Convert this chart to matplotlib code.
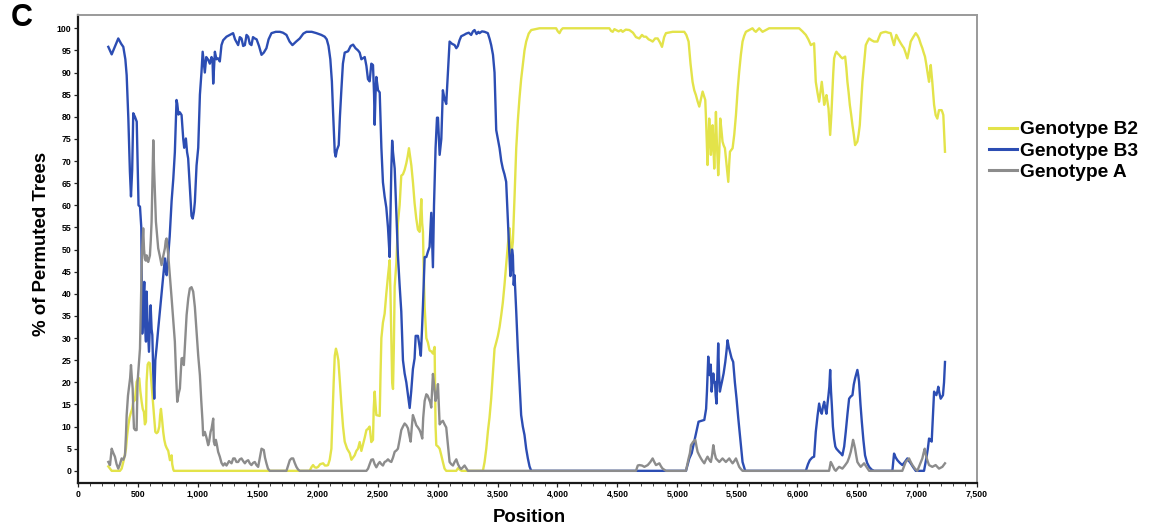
import matplotlib
matplotlib.use("Agg")
import matplotlib.pyplot as plt
from matplotlib.ticker import MultipleLocator

# ---------------- data ----------------
b2_pos = [253, 267, 281, 350, 364, 378, 390, 400, 410, 420, 430, 440, 452, 461, 475, 489, 503, 511, 520, 531,
          540, 550, 558, 567, 572, 581, 590, 600, 607, 614, 621, 628, 636, 645, 656, 667, 678, 685, 692, 700,
          711, 720, 730, 739, 753, 760, 767, 775, 781, 786, 795, 800, 1933, 1947, 1961, 1975, 1989, 2003, 2020, 2045,
          2060, 2075, 2086, 2100, 2114, 2123, 2133, 2142, 2152, 2162, 2172, 2185, 2197, 2211, 2225, 2245, 2267, 2281, 2294, 2308,
          2322, 2336, 2350, 2364, 2378, 2392, 2406, 2419, 2433, 2447, 2461, 2467, 2475, 2482, 2489, 2503, 2517, 2524, 2531, 2544,
          2558, 2572, 2586, 2600, 2607, 2614, 2621, 2628, 2635, 2642, 2656, 2669, 2683, 2697, 2711, 2725, 2739, 2750, 2761, 2771,
          2781, 2795, 2808, 2822, 2836, 2850, 2857, 2864, 2871, 2878, 2885, 2892, 2906, 2919, 2933, 2947, 2961, 2975, 2983, 2989,
          3003, 3017, 3031, 3044, 3058, 3072, 3156, 3170, 3183, 3200, 3378, 3392, 3406, 3420, 3433, 3447, 3461, 3475, 3489, 3503,
          3517, 3531, 3544, 3558, 3572, 3586, 3600, 3607, 3614, 3621, 3628, 3642, 3656, 3669, 3683, 3697, 3711, 3725, 3739, 3760,
          3781, 3850, 3989, 4003, 4017, 4030, 4044, 4294, 4433, 4447, 4461, 4475, 4489, 4510, 4530, 4544, 4570, 4600, 4630, 4655,
          4683, 4705, 4720, 4739, 4760, 4776, 4794, 4815, 4836, 4855, 4872, 4890, 4905, 4961, 5058, 5075, 5094, 5110, 5127, 5141,
          5155, 5169, 5183, 5197, 5211, 5225, 5233, 5240, 5252, 5259, 5266, 5273, 5280, 5287, 5294, 5301, 5308, 5315, 5322, 5330,
          5341, 5350, 5358, 5368, 5377, 5387, 5397, 5404, 5411, 5418, 5425, 5432, 5439, 5450, 5461, 5475, 5489, 5503, 5516, 5530,
          5544, 5558, 5572, 5600, 5627, 5641, 5655, 5669, 5683, 5697, 5711, 5725, 5739, 5766, 6016, 6044, 6072, 6093, 6114, 6128,
          6141, 6148, 6155, 6169, 6183, 6194, 6205, 6215, 6225, 6235, 6244, 6252, 6261, 6268, 6275, 6285, 6294, 6301, 6308, 6318,
          6327, 6338, 6350, 6364, 6377, 6388, 6400, 6410, 6419, 6429, 6439, 6450, 6461, 6472, 6483, 6492, 6502, 6512, 6522, 6533,
          6544, 6558, 6572, 6586, 6600, 6620, 6641, 6655, 6669, 6683, 6697, 6718, 6739, 6760, 6780, 6794, 6808, 6818, 6827, 6845,
          6864, 6878, 6891, 6905, 6919, 6933, 6947, 6968, 6989, 7003, 7016, 7030, 7044, 7055, 7066, 7076, 7086, 7093, 7100, 7107,
          7114, 7120, 7127, 7135, 7142, 7149, 7155, 7162, 7169, 7176, 7183, 7194, 7205, 7212, 7219, 7226, 7233]
b2_val = [1, 0.5, 0, 0, 0.5, 2, 3.5, 5, 8, 10.3, 12, 13, 14, 15.6, 16, 20.1, 21, 20.9, 18, 15.6,
          14, 13.3, 10.5, 11.1, 20, 24, 24.5, 24.3, 22, 19.4, 17, 14.8, 12, 8.8, 8.5, 8.8, 10, 12.5, 14, 12,
          8.8, 7, 5.8, 5.2, 4.5, 3.5, 2.4, 3, 3.5, 1.5, 0.3, 0, 0, 0.8, 1.3, 0.8, 0.7, 0.9, 1.5, 1.7,
          1.2, 1.2, 1.3, 2.5, 5, 12, 20, 26, 27.6, 26.5, 25, 20, 15, 10, 6.6, 5, 4, 2.5, 3, 3.5,
          4.5, 5, 6.5, 4.5, 6, 7.5, 9.2, 9.5, 10, 6.5, 7, 14, 17.9, 15, 12.6, 12.5, 12.4, 22, 30, 33.5,
          35.5, 40, 44, 47.6, 40, 30, 20, 18.5, 28, 41.7, 47, 56, 60, 66.7, 67, 68, 69.5, 71, 72.9, 71,
          69, 65, 60.5, 57, 54.5, 54, 58, 61.4, 56, 54, 44, 37, 30, 29, 27.2, 27, 26.5, 28, 10, 5.8,
          5.5, 5, 3.5, 2, 0.5, 0, 0, 0.6, 0.3, 0, 0, 2, 5, 9, 12, 16.3, 22, 27.6, 29, 30.5,
          32.5, 35.2, 38, 42, 46.5, 51, 54.8, 52, 48.7, 50, 51.8, 62, 72.9, 79, 84.2, 88.5, 91.7, 95, 97, 98.8,
          99.6, 100, 100, 99.3, 98.9, 99.6, 100, 100, 100, 99.4, 99.2, 99.8, 99.6, 99.3, 99.6, 99.2, 99.7, 99.6, 99, 98,
          97.7, 98.5, 98.1, 98.1, 97.5, 97.3, 97, 97.7, 97.7, 96.8, 95.8, 98, 98.9, 99.2, 99.2, 98.5, 97, 92, 87.9, 86,
          84.9, 83.5, 82.3, 84, 85.7, 84.5, 83.8, 79, 69.1, 74, 79.6, 76, 71.4, 74, 78.1, 73, 68.3, 74, 81.1, 74,
          66.8, 72, 79.6, 77, 74.4, 73.5, 72.9, 71, 69.1, 67, 65.3, 69, 72.1, 72.5, 72.9, 76, 80.4, 86, 90.2, 94,
          97, 98.3, 99.2, 99.6, 100, 99.5, 99.2, 99.6, 100, 99.6, 99.2, 99.4, 99.6, 100, 100, 99.3, 98.5, 97.5, 96.2, 96.4,
          96.6, 92, 87.9, 85.5, 83.4, 85.5, 87.9, 85.5, 82.7, 84, 84.9, 83.5, 81.9, 79, 75.9, 80.5, 85.7, 90, 93.2, 94.2,
          94.7, 94.3, 94, 93.5, 93.2, 93.4, 93.6, 91, 87.9, 85.5, 82.7, 80.5, 78.1, 76, 73.6, 74, 74.4, 76, 78.1, 83,
          87.9, 92, 96.2, 97, 97.7, 97.3, 97, 97, 97, 98, 98.9, 99.1, 99.2, 99, 98.9, 97.5, 96.2, 97.5, 98.5, 97.5,
          96.6, 96, 95.5, 94.4, 93.2, 95, 97, 98, 98.9, 98.4, 97.7, 96.5, 95.5, 94.5, 93.6, 92, 90.2, 89, 87.9, 90,
          91.7, 90, 87.9, 85, 82.7, 81.5, 80.4, 80, 79.6, 80.5, 81.5, 81.5, 81.5, 81, 80.4, 76, 72.1]

b3_pos = [253, 281, 310, 336, 360, 378, 395, 406, 420, 433, 442, 452, 461, 475, 490, 497, 505, 517, 528, 536,
          544, 553, 560, 567, 572, 580, 592, 600, 606, 614, 620, 628, 636, 645, 656, 669, 683, 697, 711, 725,
          733, 740, 753, 765, 781, 795, 808, 822, 828, 838, 850, 864, 878, 886, 900, 910, 919, 933, 947, 957,
          967, 975, 989, 1003, 1017, 1030, 1040, 1050, 1058, 1070, 1086, 1100, 1114, 1122, 1128, 1142, 1155, 1169, 1183, 1197,
          1211, 1239, 1267, 1294, 1310, 1336, 1350, 1364, 1378, 1392, 1406, 1420, 1433, 1447, 1460, 1475, 1490, 1510, 1531, 1550,
          1572, 1590, 1614, 1650, 1684, 1710, 1739, 1765, 1789, 1820, 1850, 1880, 1906, 1950, 1989, 2030, 2058, 2075, 2090, 2105,
          2118, 2128, 2142, 2150, 2160, 2175, 2185, 2197, 2210, 2225, 2253, 2275, 2295, 2315, 2336, 2350, 2364, 2380, 2392, 2406,
          2419, 2433, 2447, 2461, 2470, 2475, 2482, 2489, 2503, 2517, 2531, 2544, 2558, 2572, 2586, 2600, 2608, 2614, 2621, 2628,
          2642, 2656, 2669, 2683, 2697, 2711, 2725, 2739, 2753, 2767, 2780, 2794, 2808, 2817, 2836, 2850, 2860, 2870, 2878, 2892,
          2906, 2919, 2933, 2947, 2954, 2961, 2970, 2983, 2995, 3003, 3017, 3031, 3044, 3058, 3072, 3086, 3100, 3120, 3142, 3156,
          3169, 3183, 3197, 3220, 3239, 3260, 3280, 3295, 3308, 3325, 3340, 3350, 3370, 3392, 3419, 3435, 3447, 3462, 3475, 3489,
          3503, 3517, 3531, 3544, 3558, 3572, 3586, 3600, 3607, 3614, 3621, 3628, 3635, 3642, 3656, 3669, 3683, 3697, 3711, 3725,
          3739, 3753, 3767, 3781, 4683, 4905, 5072, 5100, 5120, 5141, 5160, 5177, 5200, 5225, 5240, 5247, 5258, 5265, 5272, 5279,
          5286, 5293, 5300, 5307, 5314, 5320, 5327, 5334, 5341, 5348, 5355, 5363, 5372, 5386, 5400, 5410, 5419, 5429, 5439, 5452,
          5466, 5480, 5494, 5508, 5522, 5533, 5544, 5566, 6072, 6090, 6105, 6125, 6141, 6148, 6155, 6170, 6183, 6195, 6205, 6215,
          6225, 6235, 6244, 6252, 6261, 6268, 6275, 6282, 6289, 6298, 6308, 6318, 6327, 6340, 6350, 6365, 6377, 6392, 6405, 6420,
          6433, 6447, 6461, 6472, 6483, 6492, 6502, 6510, 6516, 6528, 6539, 6552, 6566, 6583, 6600, 6620, 6641, 6794, 6808, 6822,
          6836, 6856, 6877, 6898, 6919, 6933, 6947, 6968, 6989, 7058, 7077, 7090, 7100, 7110, 7122, 7132, 7142, 7152, 7161, 7170,
          7177, 7187, 7197, 7207, 7216, 7225, 7233]
b3_val = [95.8, 94.1, 96, 97.7, 96.5, 95.8, 93, 89.4, 79.6, 67.6, 62, 68, 80.8, 80, 78.9, 70, 60, 59.7, 55, 31,
          38, 42.7, 33, 29.2, 40.5, 34, 26.9, 33, 37.4, 32, 30.7, 22, 16.3, 25, 28, 32, 36, 40, 44.2, 48,
          45, 44.2, 48.7, 53, 61, 66, 72, 83.8, 83, 80.5, 81, 80.4, 75, 73, 75.1, 72, 70.6, 64, 57.6, 57,
          58.5, 60.8, 69, 73, 85, 90, 94.7, 92, 90, 93.5, 92.9, 92, 93.5, 93, 87.5, 94.7, 93, 93.2, 92.5, 96.2,
          97.3, 98.1, 98.5, 98.9, 97.5, 96.2, 98, 97.7, 96, 96.2, 98.5, 98.1, 96.5, 96.2, 98, 97.7, 97.5, 96, 94, 94.5,
          95.5, 97.5, 98.9, 99.2, 99.2, 99, 98.5, 97, 96.2, 97, 97.7, 98.8, 99.2, 99.2, 98.9, 98.5, 98.1, 97.5, 96, 93,
          88, 81, 72, 71, 72.5, 73.6, 80, 86, 92, 94.5, 94.8, 96, 96.3, 95.5, 95, 94.5, 93, 93.3, 93.5, 91.5,
          88.5, 88, 92, 91.7, 85, 78.2, 85, 89, 86, 85.5, 73, 65.2, 62, 59.5, 55, 48.3, 60, 68.3, 74.6, 72,
          68.3, 58, 48.7, 42, 36, 25, 22, 20, 17, 14.2, 18, 23, 25.4, 30.5, 30.5, 28, 26, 32, 37.5, 48.3,
          48.3, 49.5, 50.6, 58.3, 52, 46, 60, 72.9, 79.8, 79.8, 71.4, 75, 86, 84, 82.9, 90, 97, 96.5, 96.2, 95.5,
          96, 97.3, 98.2, 98.5, 98.8, 99, 98.5, 99.3, 99.6, 98.7, 99.2, 98.9, 99.3, 99.2, 98.9, 97.5, 96.2, 94, 90, 77,
          75, 72.9, 70, 68.3, 67, 65.3, 57, 48.7, 44, 45.7, 50, 48.7, 42, 44.2, 36, 27.6, 20, 12.6, 10, 8.1,
          5, 2.8, 1, 0, 0, 0, 0, 2.8, 4, 6.6, 9, 11.1, 11.3, 11.5, 14, 17.9, 25.8, 22, 21.6, 24,
          17.9, 20, 22, 20, 20.1, 17, 15.2, 22, 28.8, 22, 17.9, 19, 20.1, 22, 24.6, 27, 29.5, 28, 26.9, 25.5,
          24.6, 20, 16.3, 12, 8.1, 5, 2, 0, 0, 1.5, 2.4, 3, 3.2, 6, 8.8, 12.5, 15.2, 13.5, 12.9, 14.5,
          15.6, 14, 12.9, 15, 17.1, 19, 22.8, 18, 14.8, 10, 7.3, 5.5, 5.0, 4.6, 4.3, 3.9, 3.5, 5.5, 8.8, 13,
          16.3, 16.8, 17.1, 19.5, 20.9, 21.8, 22.8, 21.5, 20.1, 15, 11.1, 7, 3.5, 1.8, 0.9, 0.3, 0, 0, 3.9, 3,
          2.4, 1.8, 1.3, 2.0, 2.8, 2.2, 1.7, 0.8, 0, 0, 2.8, 5, 7.3, 7, 6.6, 12, 17.9, 17.5, 17.1, 18,
          19, 17.5, 16.3, 16.7, 17.1, 20, 24.6]

a_pos = [253, 267, 281, 295, 308, 322, 336, 350, 364, 378, 392, 400, 406, 417, 428, 435, 442, 449, 456, 462,
         467, 478, 489, 497, 507, 517, 524, 531, 537, 544, 551, 558, 565, 572, 580, 586, 593, 600, 607, 614,
         621, 628, 635, 642, 650, 660, 669, 683, 697, 711, 725, 732, 739, 746, 753, 767, 781, 795, 808, 818,
         828, 840, 850, 857, 864, 873, 883, 895, 906, 920, 933, 947, 961, 975, 989, 1003, 1017, 1028, 1039, 1044,
         1050, 1058, 1072, 1086, 1094, 1106, 1114, 1128, 1133, 1142, 1150, 1158, 1169, 1183, 1197, 1211, 1225, 1239, 1260, 1281,
         1295, 1308, 1322, 1336, 1350, 1364, 1378, 1392, 1406, 1420, 1433, 1447, 1461, 1475, 1489, 1503, 1517, 1531, 1550, 1560,
         1572, 1585, 1600, 1739, 1753, 1767, 1781, 1795, 1808, 1822, 1836, 1850, 2406, 2420, 2433, 2447, 2461, 2475, 2489, 2503,
         2517, 2531, 2544, 2558, 2572, 2586, 2600, 2614, 2628, 2642, 2656, 2669, 2683, 2697, 2711, 2725, 2739, 2753, 2764, 2775,
         2785, 2794, 2808, 2822, 2836, 2850, 2860, 2872, 2880, 2892, 2906, 2917, 2928, 2938, 2947, 2954, 2961, 2972, 2983, 2993,
         3003, 3010, 3017, 3030, 3044, 3058, 3072, 3086, 3100, 3114, 3128, 3142, 3156, 3170, 3183, 3197, 3211, 3225, 3239, 3253,
         4655, 4670, 4683, 4705, 4725, 4753, 4775, 4794, 4808, 4822, 4836, 4850, 4864, 4877, 4905, 5072, 5094, 5105, 5114, 5133,
         5150, 5160, 5169, 5183, 5197, 5211, 5225, 5238, 5252, 5266, 5280, 5290, 5300, 5311, 5322, 5336, 5350, 5364, 5377, 5391,
         5405, 5419, 5433, 5447, 5461, 5475, 5489, 5503, 5516, 5530, 5544, 6266, 6280, 6290, 6300, 6311, 6322, 6336, 6350, 6364,
         6377, 6398, 6419, 6433, 6447, 6456, 6466, 6475, 6483, 6492, 6502, 6516, 6530, 6544, 6558, 6580, 6600, 6877, 6891, 6905,
         6919, 6933, 6947, 6961, 6982, 7002, 7023, 7044, 7054, 7064, 7070, 7077, 7088, 7100, 7114, 7127, 7141, 7155, 7169, 7183,
         7197, 7211, 7222, 7233]
a_val = [2, 1.3, 5.0, 4, 3.2, 1.5, 0.5, 1.5, 2.8, 2.5, 3.5, 8, 12.6, 17, 19.4, 21, 23.9, 21, 18.6, 13,
         9.6, 9.2, 9.2, 20.1, 24, 27.6, 37, 45.7, 51, 54.8, 50, 48, 47.5, 48.7, 47.5, 47.2, 48, 48.7, 52, 56.3,
         66, 74.7, 68, 62.3, 56.3, 53, 50.3, 48.5, 46.5, 48.5, 50.3, 52, 52.5, 50.5, 48.7, 44, 39, 34, 29.2, 22,
         15.6, 17.5, 18.6, 22, 25.4, 25.5, 23.9, 30, 35.2, 39, 41.2, 41.5, 40.5, 37, 31.4, 26, 21.6, 16, 11.1, 8,
         8.1, 8.8, 7.5, 5.8, 6.6, 8.8, 9.5, 11.8, 6.6, 5.8, 7, 6, 4.3, 3.2, 1.8, 1.2, 1.7, 1.2, 2.2, 1.7,
         2.8, 2.8, 2, 2, 2.6, 2.8, 2.2, 1.7, 2.2, 2.4, 1.7, 1.3, 1.8, 2, 1.3, 0.9, 3, 5, 4.7, 3,
         1.7, 0.5, 0, 0, 1.2, 2.4, 2.8, 2.8, 1.8, 0.9, 0.3, 0, 0, 0.5, 1.5, 2.5, 2.6, 1.5, 0.8, 1.5,
         2, 1.5, 1.2, 2, 2.2, 2.6, 2.2, 2, 3, 4.3, 4.6, 5, 7, 9.2, 10, 10.7, 10.3, 9.6, 8, 6.6,
         10, 12.6, 11.5, 10.3, 9.8, 9.2, 8.5, 7.3, 12, 15.8, 17.3, 17, 16.2, 15.5, 14.3, 18, 21.9, 19, 15.8, 17,
         19.6, 15, 10.5, 11, 11.3, 10.5, 9.8, 6, 2, 1.5, 1.2, 2, 2.6, 1.5, 0.8, 0.4, 0.8, 1.2, 0.6, 0,
         0, 1.2, 1.3, 1.2, 0.9, 1.3, 2, 2.8, 2, 1.3, 1.5, 1.7, 1, 0.5, 0, 0, 2.8, 4, 5.8, 6.6,
         7, 5.5, 4.3, 3.5, 2.8, 2.2, 1.7, 2.5, 3.2, 2.5, 2, 3.5, 5.8, 4, 2.8, 2.4, 2, 2.4, 2.8, 2.4,
         2, 2.4, 2.8, 2.2, 1.7, 2.2, 2.8, 1.8, 0.9, 0.4, 0, 0, 2, 1.5, 0.9, 0.3, 0, 0.5, 0.9, 0.7,
         0.5, 1.2, 2, 3, 4.3, 5.5, 7, 6, 5, 3.5, 2, 1.4, 0.9, 1.3, 1.7, 0.8, 0, 0, 1, 2,
         2.4, 2.8, 2, 1.3, 0.5, 0, 1.4, 2.8, 4, 5, 4, 3.2, 2.2, 1.3, 1.1, 0.9, 1.1, 1.3, 0.9, 0.5,
         0.7, 0.9, 1.3, 1.7]

series_labels = ["Genotype B2", "Genotype B3", "Genotype A"]
x_ticks = list(range(0, 7501, 500))
y_ticks = list(range(0, 101, 5))

# ---------------- figure ----------------
W, H = 1149, 532
fig = plt.figure(figsize=(W / 100, H / 100), dpi=100)
ax = fig.add_axes([78 / W, 1 - 483 / H, (977 - 78) / W, (483 - 15) / H])

c_b2, c_b3, c_a = "#e3e34a", "#2c4db3", "#8c8c8c"
lw = 1.7
ax.plot(b2_pos, b2_val, color=c_b2, lw=lw, label=series_labels[0], zorder=2)
ax.plot(b3_pos, b3_val, color=c_b3, lw=lw, label=series_labels[1], zorder=3)
ax.plot(a_pos, a_val, color=c_a, lw=lw, label=series_labels[2], zorder=4)

ax.set_xlim(0, 7500)
ax.set_ylim(-2.75, 103.0)

tick_font = dict(family="Liberation Sans", weight="bold", size=6.3)
ax.set_xticks(x_ticks)
ax.xaxis.set_minor_locator(MultipleLocator(100))
ax.set_xticklabels([f"{v:,}" for v in x_ticks], fontdict=tick_font)
ax.set_yticks(y_ticks)
ax.set_yticklabels([str(v) for v in y_ticks], fontdict=tick_font)
ax.tick_params(axis="both", which="major", direction="out", length=3, width=0.9, pad=1.8, color="#222222")
ax.tick_params(axis="x", which="minor", direction="out", length=2, width=0.7, color="#444444")

for side in ("left", "bottom"):
    ax.spines[side].set_color("#1a1a1a")
    ax.spines[side].set_linewidth(1.6)
for side in ("top", "right"):
    ax.spines[side].set_color("#9a9a9a")
    ax.spines[side].set_linewidth(1.4)

lab_font = dict(family="Liberation Sans", weight="bold", size=13.4)
ax.set_xlabel("Position", fontdict=lab_font)
ax.xaxis.set_label_coords(0.502, -0.055)
ax.set_ylabel("% of Permuted Trees", fontdict=lab_font)
ax.yaxis.set_label_coords(-0.031, 0.51)

leg = ax.legend(loc="upper left", bbox_to_anchor=(989 / W, 1 - 121 / H), bbox_transform=fig.transFigure,
                frameon=False, borderpad=0, borderaxespad=0, handlelength=1.45, handletextpad=0.15,
                labelspacing=0.2, prop=dict(family="Liberation Sans", weight="bold", size=13.8))
for line in leg.get_lines():
    line.set_linewidth(2.2)

fig.text(22 / W, 1 - 18 / H, "C", ha="center", va="center", family="Liberation Sans", weight="bold", size=22)

fig.savefig("out.png", dpi=100, facecolor="white")
